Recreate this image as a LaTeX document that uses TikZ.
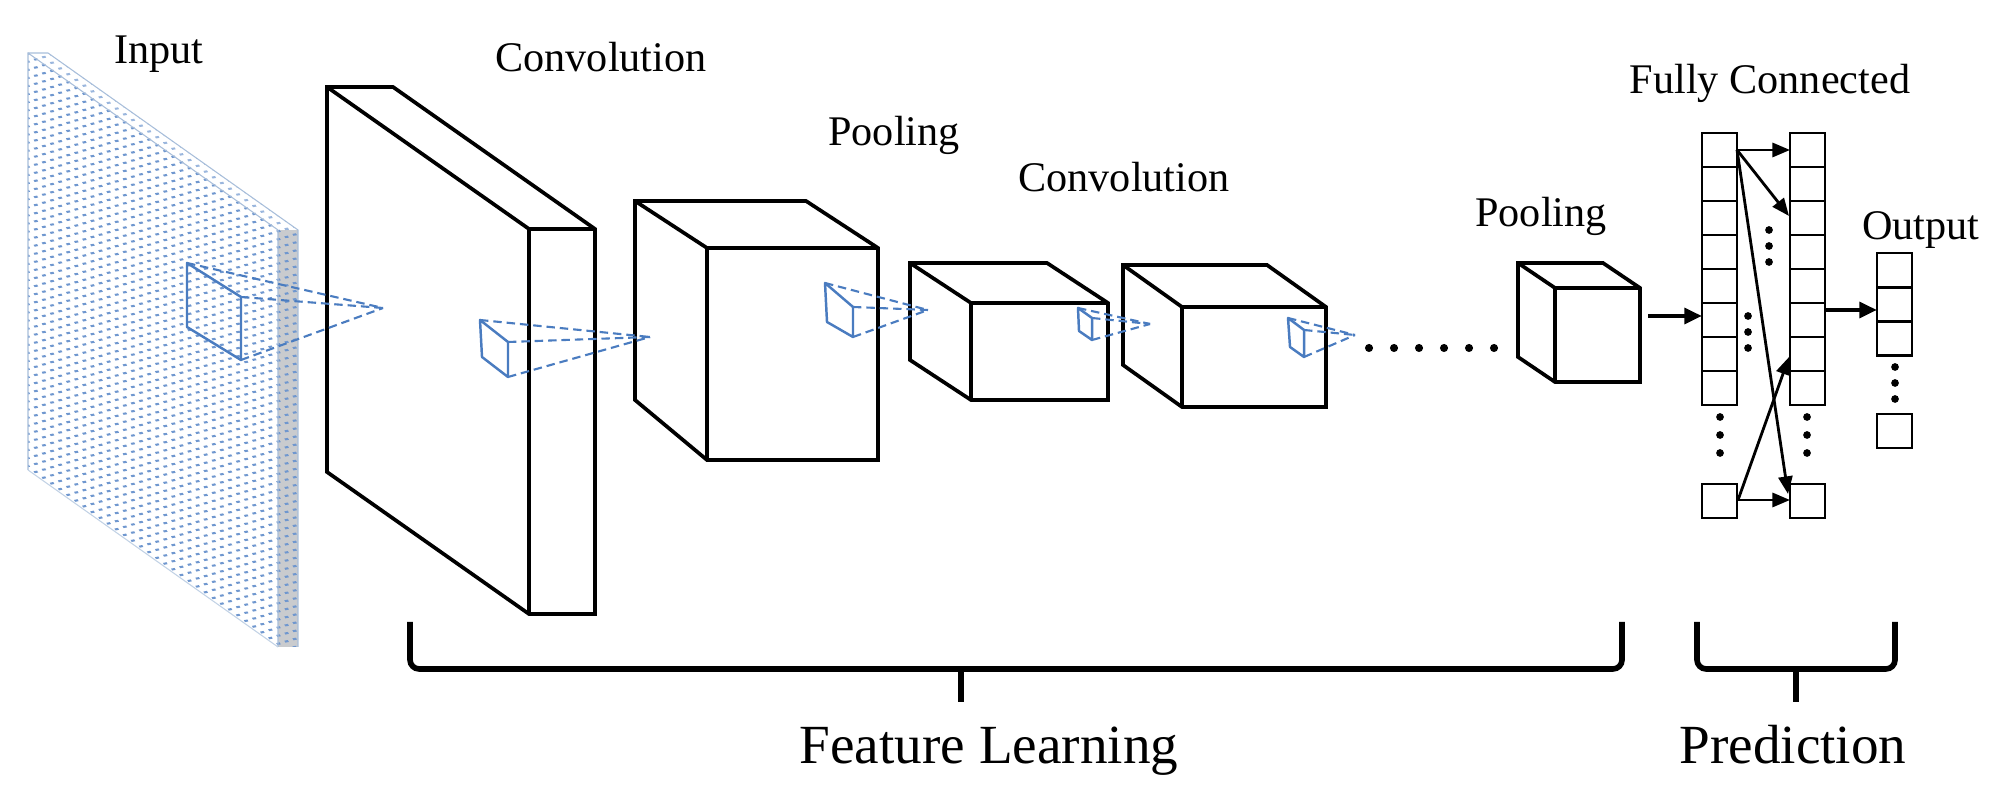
\documentclass[tikz,border=0pt]{standalone}
\usepackage{fontspec}
\setmainfont{Liberation Serif}
\usetikzlibrary{arrows.meta,patterns.meta}

\definecolor{fblue}{HTML}{4A7CC0}
\definecolor{patblue}{HTML}{6F97CF}
\definecolor{stripgray}{HTML}{C9CBCE}
\definecolor{edgeblue}{HTML}{A8BEDA}

\tikzdeclarepattern{
  name=inputdash,
  type=uncolored,
  bounding box={(-0.2pt,-0.2pt) and (2.5pt,2.5pt)},
  tile size={(2.3pt,2.3pt)},
  tile transformation={yslant=-0.708},
  code={\draw[line width=0.45pt] (0.5pt,0.6pt) -- (1.5pt,1.5pt);}
}

\tikzset{
  boxline/.style={draw=black, fill=white, line width=1.05pt, line join=miter},
  boxedge/.style={draw=black, line width=1.05pt},
  filt/.style={draw=fblue, line width=0.7pt, line join=round},
  proj/.style={draw=fblue, line width=0.6pt, dash pattern=on 2.4pt off 1.4pt},
  cell/.style={draw=black, line width=0.8pt},
  fcarrow/.style={line width=0.8pt, -{Triangle[length=5pt,width=4pt]}},
  bigarrow/.style={line width=1.3pt, -{Triangle[length=5pt,width=4.4pt]}},
  lab/.style={anchor=base, inner sep=0pt, font=\fontsize{12}{14}\selectfont},
  biglab/.style={anchor=base, inner sep=0pt, font=\fontsize{15.7}{18}\selectfont},
  brace/.style={draw=black, line width=1.6pt, rounded corners=2.6pt},
  dot/.style={fill=black}
}

% cuboid: front face (x1,y1)-(x2,y2), back offset top (dx,dy), back bottom-left y
\newcommand\mycuboid[7]{%
  \filldraw[boxline] (#1,#4) -- ({#1+#5},{#7}) -- ({#1+#5},{#2+#6}) -- ({#3+#5},{#2+#6}) -- (#3,#2) -- (#3,#4) -- cycle;
  \draw[boxedge] (#1,#4) -- (#1,#2) -- (#3,#2);
  \draw[boxedge] (#1,#2) -- ({#1+#5},{#2+#6});
}

\begin{document}
\begin{tikzpicture}[x=0.01cm,y=-0.01cm]
\useasboundingbox (0,0) rectangle (1998,798);

% ---------- input plane ----------
\fill[white] (28,53) -- (278,230) -- (278,647) -- (28,470) -- cycle;
\fill[pattern=inputdash, pattern color=patblue] (28,53) -- (278,230) -- (278,647) -- (28,470) -- cycle;
\fill[stripgray] (278,230) rectangle (298,647);
\fill[pattern=inputdash, pattern color=patblue] (278,230) rectangle (298,647);
\fill[pattern=inputdash, pattern color=patblue!70] (28,53) -- (48,53) -- (298,230) -- (278,230) -- cycle;
\draw[edgeblue, line width=0.3pt] (28,470) -- (28,53) -- (48,53) -- (298,230) -- (298,647);
\draw[edgeblue, line width=0.3pt] (28,53) -- (278,230) -- (278,647);
\draw[edgeblue!70, line width=0.3pt] (28,470) -- (278,647);

% ---------- boxes ----------
\mycuboid{529}{229}{595}{614}{-202}{-142}{472}
\mycuboid{707}{248}{878}{460}{-72}{-47}{400}
\mycuboid{971}{303}{1108}{400}{-61}{-40}{360}
\mycuboid{1182}{307}{1326}{407}{-59}{-42}{365}
\mycuboid{1555}{288}{1640}{382}{-37}{-25}{357}

% ---------- receptive fields ----------
\coordinate (a0) at (383,308);
\draw[filt] (187,263) -- (241,297) -- (241,360) -- (187,327) -- cycle;
\draw[proj] (187,263) -- (a0); \draw[proj] (241,297) -- (a0); \draw[proj] (241,360) -- (a0);

\coordinate (a1) at (650,337);
\draw[filt] (480,320) -- (508,342) -- (508,377) -- (482,357) -- cycle;
\draw[proj] (480,320) -- (a1); \draw[proj] (508,342) -- (a1); \draw[proj] (508,377) -- (a1);

\coordinate (a2) at (928,310);
\draw[filt] (825,283) -- (853,307) -- (853,337) -- (827,322) -- cycle;
\draw[proj] (825,283) -- (a2); \draw[proj] (853,307) -- (a2); \draw[proj] (853,337) -- (a2);

\coordinate (a3) at (1150,324);
\draw[filt] (1078,308) -- (1092,318) -- (1092,340) -- (1079,331) -- cycle;
\draw[proj] (1078,308) -- (a3); \draw[proj] (1092,318) -- (a3); \draw[proj] (1092,340) -- (a3);

\coordinate (a4) at (1355,335);
\draw[filt] (1288,318) -- (1304,330) -- (1304,357) -- (1290,347) -- cycle;
\draw[proj] (1288,318) -- (a4); \draw[proj] (1304,330) -- (a4); \draw[proj] (1304,357) -- (a4);

% ---------- ellipsis dots ----------
\foreach \x in {1369,1394,1419,1444,1469,1494} \fill[dot] (\x,348) circle (1.15pt);

% ---------- fully connected ----------
\foreach \i in {0,...,7} {
  \draw[cell] (1702,{133+34*\i}) rectangle (1737,{167+34*\i});
  \draw[cell] (1790,{133+34*\i}) rectangle (1825,{167+34*\i});
}
\draw[cell] (1702,484) rectangle (1737,518);
\draw[cell] (1790,484) rectangle (1825,518);
\foreach \y in {417,435,453} { \fill[dot] (1720,\y) circle (1.1pt); \fill[dot] (1807,\y) circle (1.1pt); }
\foreach \y in {230,246,262} \fill[dot] (1769,\y) circle (1.1pt);
\foreach \y in {316,332,348} \fill[dot] (1748,\y) circle (1.1pt);

% output
\foreach \i in {0,1,2} \draw[cell] (1877,{253+34.3*\i}) rectangle (1912,{287.3+34.3*\i});
\draw[cell] (1877,414) rectangle (1912,448);
\foreach \y in {367,383,399} \fill[dot] (1895,\y) circle (1.1pt);

% arrows
\coordinate (c1t) at (1737,150);
\coordinate (c1b) at (1738,500);
\draw[fcarrow] (c1t) -- (1790,150);
\draw[fcarrow] (c1t) -- (1789,216);
\draw[fcarrow] (c1t) -- (1788,494);
\draw[fcarrow] (c1b) -- (1789,357);
\draw[fcarrow] (c1b) -- (1790,500);
\coordinate (p2) at (1648,316);
\coordinate (fc1in) at (1702,316);
\draw[bigarrow] (p2) -- (fc1in);
\coordinate (fc2out) at (1825,310);
\coordinate (outin) at (1877,310);
\draw[bigarrow] (fc2out) -- (outin);

% ---------- braces ----------
\draw[brace] (410,622) -- (410,669) -- (1622,669) -- (1622,622);
\draw[brace] (961,669) -- (961,702);
\draw[brace] (1697,622) -- (1697,669) -- (1895,669) -- (1895,622);
\draw[brace] (1796,669) -- (1796,702);

% ---------- labels ----------
\node[lab] (tin) at (159,64) {Input};
\node[lab] (tc1) at (601,72) {Convolution};
\node[lab] (tp1) at (894,146) {Pooling};
\node[lab] (tc2) at (1124,192) {Convolution};
\node[lab] (tp2) at (1541,227) {Pooling};
\node[lab] (tfc) at (1770,94) {Fully Connected};
\node[lab] (tout) at (1921,240) {Output};
\node[biglab] (tfl) at (989,763) {Feature Learning};
\node[biglab] (tpr) at (1793,763) {Prediction};
\end{tikzpicture}
\end{document}
